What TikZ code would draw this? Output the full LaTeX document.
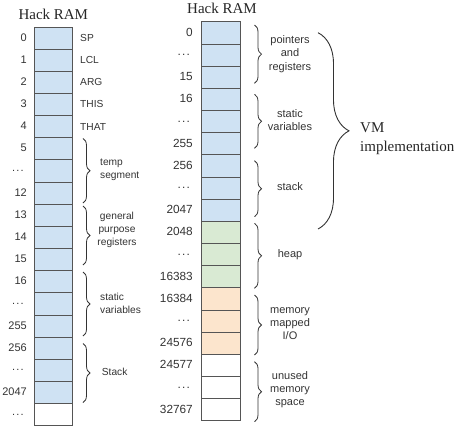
\documentclass[tikz,border=0pt]{standalone}
\usepackage{fontspec}
\setmainfont{Liberation Serif}
\newfontfamily\labfont{Liberation Sans}
\usetikzlibrary{decorations.pathreplacing}
\definecolor{cellblue}{HTML}{CFE2F3}
\definecolor{cellgreen}{HTML}{D9EAD3}
\definecolor{cellorange}{HTML}{FCE5CD}
\definecolor{linegray}{HTML}{555555}
\definecolor{textgray}{HTML}{333333}
\newcommand\ddd{.\kern1.2pt.\kern1.2pt.}
\begin{document}
\begin{tikzpicture}[x=1pt,y=-1pt,
 cellL/.style={draw=linegray, line width=0.9pt, minimum width=38pt, minimum height=22.15pt, inner sep=0pt, outer sep=0pt, anchor=north west},
 cellR/.style={draw=linegray, line width=0.9pt, minimum width=39.3pt, minimum height=22.17pt, inner sep=0pt, outer sep=0pt, anchor=north west},
 lab/.style={font=\labfont\fontsize{10.2}{13}\selectfont, text=textgray, inner sep=0pt},
 labR/.style={font=\labfont\fontsize{11}{13.3}\selectfont, text=textgray, inner sep=0pt},
 num/.style={font=\labfont\fontsize{11}{13}\selectfont, text=textgray, inner sep=0pt, anchor=east},
 numR/.style={font=\labfont\fontsize{11.8}{13}\selectfont, text=textgray, inner sep=0pt, anchor=east},
 title/.style={font=\fontsize{15}{18.7}\selectfont, text=black!85, inner sep=0pt},
 br/.style={decorate, decoration={brace, amplitude=7pt}, draw=textgray, line width=0.8pt},
 bigbr/.style={decorate, decoration={brace, amplitude=31pt}, draw=textgray, line width=0.9pt}]
\useasboundingbox (0,0) rectangle (460,431);
% titles
\node[title, anchor=base] (tL) at (53.3,19.3) {Hack RAM};
\node[title, anchor=base] (tR) at (222,13.3) {Hack RAM};
% left column
\foreach \i in {0,...,16} \node[cellL, fill=cellblue] (L\i) at (34.5,27+\i*22.15) {};
\node[cellL, fill=white] (L17) at (34.5,27+17*22.15) {};
% right column
\foreach \i in {0,...,8} \node[cellR, fill=cellblue] (R\i) at (201.5,21.8+\i*22.17) {};
\foreach \i in {9,10,11} \node[cellR, fill=cellgreen] (R\i) at (201.5,21.8+\i*22.17) {};
\foreach \i in {12,13,14} \node[cellR, fill=cellorange] (R\i) at (201.5,21.8+\i*22.17) {};
\foreach \i in {15,16,17} \node[cellR, fill=white] (R\i) at (201.5,21.8+\i*22.17) {};
% left numbers
\foreach \r/\t in {0/0,1/1,2/2,3/3,4/4,5/5,7/12,8/13,9/14,10/15,11/16,13/255,14/256,16/2047}
  \node[num] (nL\r) at (27,27+\r*22.15+10.5) {\t};
\foreach \r in {6,12,15,17}
  \node[num] (nL\r) at (24,27+\r*22.15+11) {\ddd};
% right numbers
\foreach \r/\t in {0/0,2/15,3/16,5/255,6/256,8/2047,9/2048,11/16383,12/16384,14/24576,15/24577,17/32767}
  \node[numR] (nR\r) at (193,21.8+\r*22.17+10.5) {\t};
\foreach \r in {1,4,7,10,13,16}
  \node[numR] (nR\r) at (190,21.8+\r*22.17+11) {\ddd};
% left register names
\foreach \r/\t in {0/SP,1/LCL,2/ARG,3/THIS,4/THAT}
  \node[lab, anchor=west] (s\r) at (80,27+\r*22.15+11) {\t};
% left braces
\draw[br] (83,138.5) -- (83,203);
\draw[br] (83,206) -- (83,265);
\draw[br] (83,272) -- (83,336);
\draw[br] (83,343.5) -- (83,402.5);
\node[lab, anchor=west, align=left] (temp) at (100,170) {temp\\segment};
\node[lab, align=center] (gpr) at (117,230) {general\\purpose\\registers};
\node[lab, anchor=west, align=left] (stL) at (100,303.7) {static\\variables};
\node[lab, anchor=west] (stk) at (101.7,372) {Stack};
% right braces
\draw[br] (254.5,25) -- (254.5,83.3);
\draw[br] (254.5,94.3) -- (254.5,148.3);
\draw[br] (254.5,160.7) -- (254.5,216.7);
\draw[br] (254.5,223.3) -- (254.5,288.3);
\draw[br] (254.5,295) -- (254.5,355);
\draw[br] (254.5,361.7) -- (254.5,421.7);
\node[labR, align=center] (ptr) at (290,54) {pointers\\and\\registers};
\node[labR, align=center] (stR) at (290,120.3) {static\\variables};
\node[labR, align=center] (stack) at (290,186.7) {stack};
\node[labR, align=center] (heap) at (290,255) {heap};
\node[labR, align=center] (mmio) at (290,323.5) {memory\\mapped\\I/O};
\node[labR, align=center] (unused) at (290,389.7) {unused\\memory\\space};
% big brace
\draw[bigbr] (318,32.7) -- (318,229);
\node[title, anchor=west, align=left] (vm) at (360,139) {VM\\implementation};
\end{tikzpicture}
\end{document}
